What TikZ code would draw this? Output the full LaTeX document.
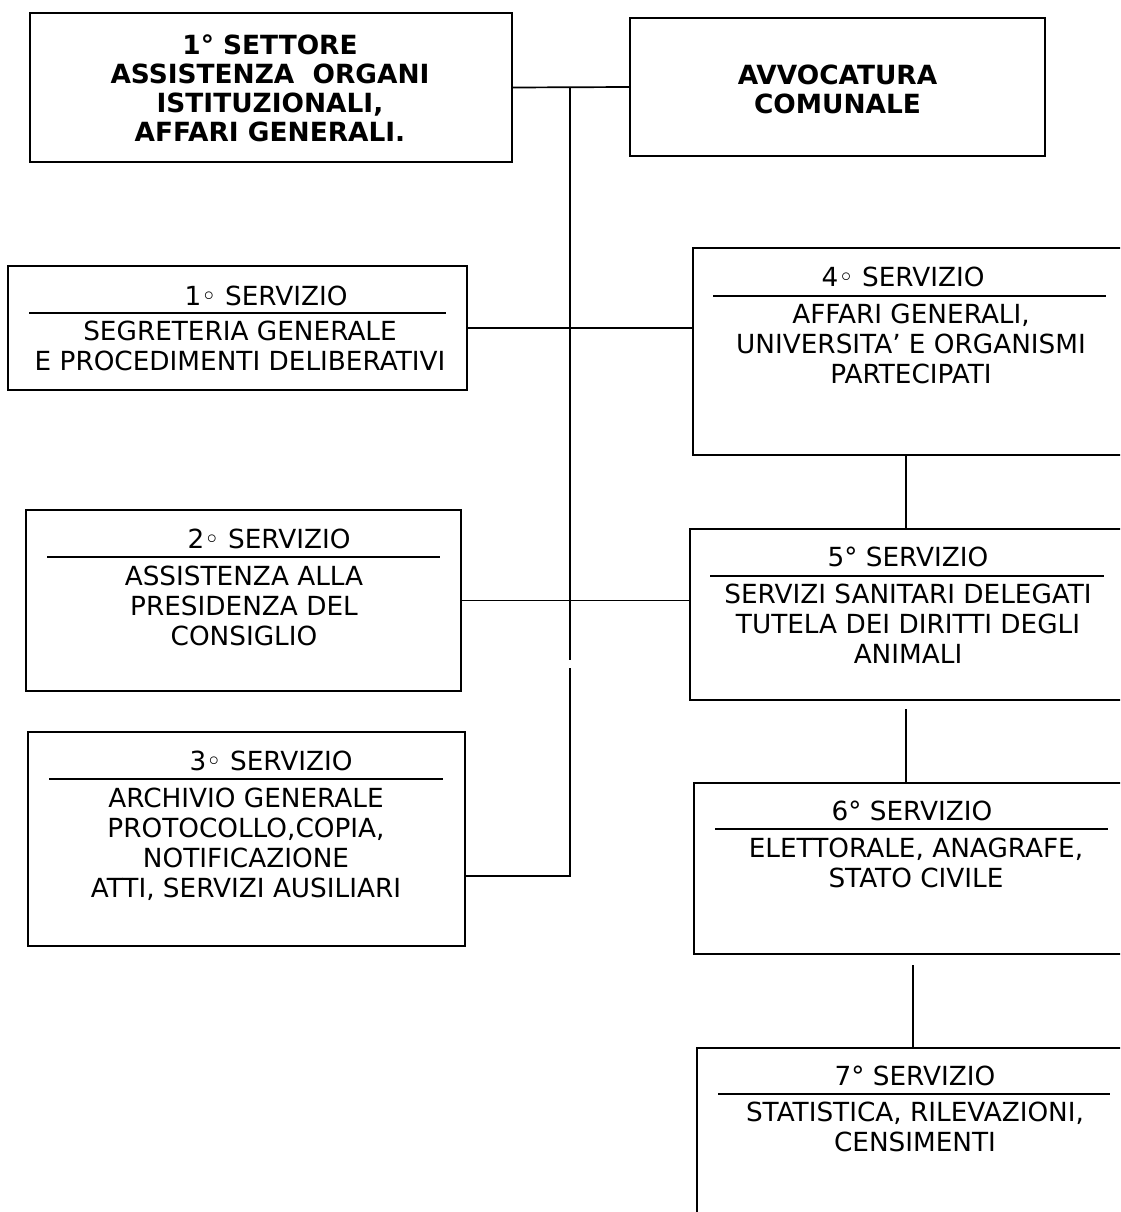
\documentclass[tikz,border=0pt]{standalone}
\usepackage{fontspec}
\setmainfont{DejaVu Sans}
\begin{document}
\begin{tikzpicture}[x=1pt,y=-1pt,
  box/.style={draw=black,line width=1.3pt,minimum width=#1,inner sep=0pt},
  head/.style={font=\bfseries\fontsize{26.4}{29}\selectfont,align=center,anchor=north,inner sep=0pt},
  ttl/.style={font=\fontsize{26.3}{30}\selectfont,anchor=north,inner sep=0pt},
  body/.style={font=\fontsize{26.3}{30}\selectfont,align=center,anchor=north,inner sep=0pt},
  rul/.style={line width=2.6pt},
  conn/.style={line width=1.7pt}]
\useasboundingbox (0,0) rectangle (1120,1212);
\clip (0,0) rectangle (1120,1212);

% top level boxes
\node[box=482pt,minimum height=149pt] (A) at (271,87.5) {};
\node[box=415pt,minimum height=138pt] (B) at (837.5,87) {};
\node[head] (Atxt) at (270,34.5) {1° SETTORE\\ASSISTENZA\ \ ORGANI\\ISTITUZIONALI,\\AFFARI GENERALI.};
\node[head] (Btxt) at (837.5,64.5) {AVVOCATURA\\COMUNALE};

% service boxes, left column
\node[box=459pt,minimum height=124pt] (s1) at (237.5,328) {};
\node[box=435pt,minimum height=181pt] (s2) at (243.5,600.5) {};
\node[box=437pt,minimum height=214pt] (s3) at (246.5,839) {};
% service boxes, right column
\node[box=442pt,minimum height=207pt] (s4) at (914,351.5) {};
\node[box=445pt,minimum height=171pt] (s5) at (912.5,614.5) {};
\node[box=441pt,minimum height=171pt] (s6) at (914.5,868.5) {};
\node[box=438pt,minimum height=177pt] (s7) at (916,1136.5) {};

% titles, rules and descriptions
\node[ttl] (t1) at (266,285.5) {1◦ SERVIZIO};
\draw[rul] (29,313) -- (446,313);
\node[body] (b1) at (240,320.5) {SEGRETERIA GENERALE\\E PROCEDIMENTI DELIBERATIVI};

\node[ttl] (t2) at (269,528.5) {2◦ SERVIZIO};
\draw[rul] (47,557) -- (440,557);
\node[body] (b2) at (244,565.5) {ASSISTENZA ALLA\\PRESIDENZA DEL\\CONSIGLIO};

\node[ttl] (t3) at (271,750.5) {3◦ SERVIZIO};
\draw[rul] (49,779) -- (443,779);
\node[body] (b3) at (246,787.5) {ARCHIVIO GENERALE\\PROTOCOLLO,COPIA,\\NOTIFICAZIONE\\ATTI, SERVIZI AUSILIARI};

\node[ttl] (t4) at (903,266.5) {4◦ SERVIZIO};
\draw[rul] (713,296) -- (1106,296);
\node[body] (b4) at (911,303.5) {AFFARI GENERALI,\\UNIVERSITA’ E ORGANISMI\\PARTECIPATI};

\node[ttl] (t5) at (908,546.5) {5° SERVIZIO};
\draw[rul] (710,576) -- (1104,576);
\node[body] (b5) at (908,583.5) {SERVIZI SANITARI DELEGATI\\TUTELA DEI DIRITTI DEGLI\\ANIMALI};

\node[ttl] (t6) at (912,800.5) {6° SERVIZIO};
\draw[rul] (715,829) -- (1108,829);
\node[body] (b6) at (916,837.5) {ELETTORALE, ANAGRAFE,\\STATO CIVILE};

\node[ttl] (t7) at (915,1065.5) {7° SERVIZIO};
\draw[rul] (718,1094) -- (1110,1094);
\node[body] (b7) at (915,1101.5) {STATISTICA, RILEVAZIONI,\\CENSIMENTI};

% connectors
\coordinate (trTop) at (570,88);
\coordinate (trGapA) at (570,660);
\coordinate (trGapB) at (570,668);
\coordinate (trBot) at (570,876);
\coordinate (c45a) at (906,455);
\coordinate (c45b) at (906,529);
\coordinate (c56a) at (906,709);
\coordinate (c56b) at (906,783);
\coordinate (c67a) at (913,965);
\coordinate (c67b) at (913,1048);

\draw[conn] (A.east) -- (B.west);
\draw[conn] (trTop) -- (trGapA);
\draw[conn] (trGapB) -- (trBot) -- (s3.east |- trBot);
\draw[conn] (s1.east) -- (s1.east -| s4.west);
\draw[conn] (s2.east) -- (s2.east -| s5.west);
\draw[conn] (c45a) -- (c45b);
\draw[conn] (c56a) -- (c56b);
\draw[conn] (c67a) -- (c67b);
\end{tikzpicture}
\end{document}
